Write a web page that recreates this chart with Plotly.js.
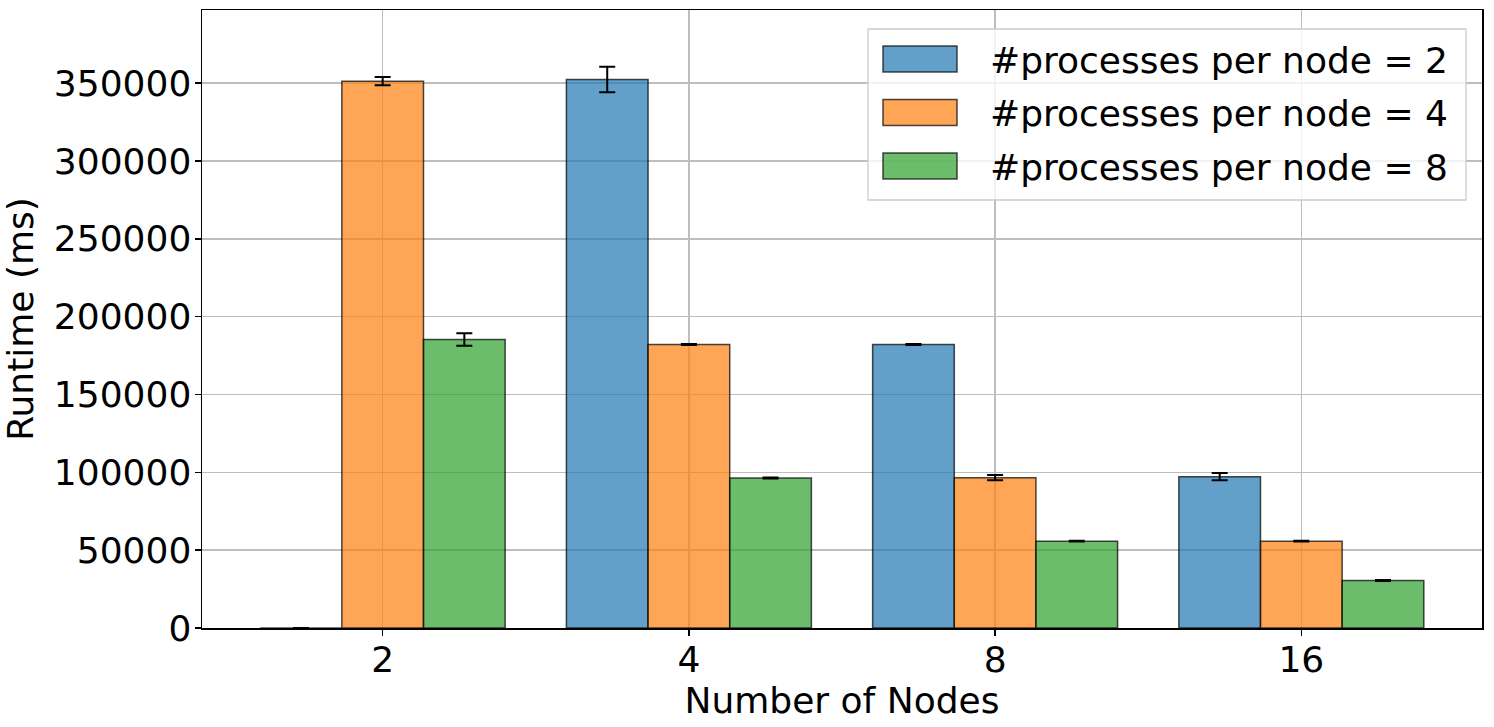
<!DOCTYPE html>
<html>
<head>
<meta charset="utf-8">
<script src="https://cdn.plot.ly/plotly-3.0.1.min.js"></script>
<style>html,body{margin:0;padding:0;background:#fff;}#chart{width:1494px;height:727px;}</style>
</head>
<body>
<div id="chart"></div>
<script>
// ---- data ----
const nodes = ["2", "4", "8", "16"];
const seriesNames = ["#processes per node = 2", "#processes per node = 4", "#processes per node = 8"];
const runtime_ppn2 = [0, 352300, 182100, 97200];
const runtime_ppn4 = [351300, 182100, 96600, 55800];
const runtime_ppn8 = [185300, 96400, 55800, 30500];
const err_ppn2 = [0, 8200, 300, 2300];
const err_ppn4 = [2700, 300, 1700, 300];
const err_ppn8 = [4000, 300, 300, 300];
const yTickVals = [0, 50000, 100000, 150000, 200000, 250000, 300000, 350000];

// ---- styling ----
const fills = ["rgba(31,119,180,0.7)", "rgba(255,127,14,0.7)", "rgba(44,160,44,0.7)"];
const FONT = "DejaVu Sans, Liberation Sans, sans-serif";
const W = 1494, H = 727;
const M = {l: 202, r: 12, t: 10, b: 99};
const PW = W - M.l - M.r, PH = H - M.t - M.b;
const px = x => (x - M.l) / PW;
const py = y => (H - M.b - y) / PH;

const values = [runtime_ppn2, runtime_ppn4, runtime_ppn8];
const errors = [err_ppn2, err_ppn4, err_ppn8];

const traces = values.map((v, i) => ({
  type: "bar",
  name: seriesNames[i],
  x: nodes,
  y: v,
  marker: {color: fills[i], line: {color: "rgba(0,0,0,0.7)", width: 1.5}},
  error_y: {type: "data", array: errors[i], visible: true, color: "black", thickness: 2, width: 8},
  showlegend: false
}));

// custom legend (matplotlib style)
const shapes = [{
  type: "rect", xref: "paper", yref: "paper",
  x0: px(868), x1: px(1466), y0: py(200), y1: py(29),
  fillcolor: "rgba(255,255,255,0.8)", line: {color: "rgba(204,204,204,1)", width: 1.3}, layer: "above"
}];
const annotations = [];
const rowCenters = [59, 112.5, 166];
seriesNames.forEach((n, i) => {
  shapes.push({
    type: "rect", xref: "paper", yref: "paper",
    x0: px(883), x1: px(957), y0: py(rowCenters[i] + 13), y1: py(rowCenters[i] - 13),
    fillcolor: fills[i], line: {color: "rgba(0,0,0,0.7)", width: 1.5}, layer: "above"
  });
  annotations.push({
    xref: "paper", yref: "paper", x: px(988), y: py(rowCenters[i] + 1),
    xanchor: "left", yanchor: "middle", showarrow: false,
    text: n, font: {family: FONT, size: 36, color: "black"}
  });
});

const layout = {
  width: W, height: H,
  margin: M,
  paper_bgcolor: "white", plot_bgcolor: "white",
  font: {family: FONT, size: 36, color: "black"},
  barmode: "group", bargap: 0.2, bargroupgap: 0,
  showlegend: false,
  xaxis: {
    type: "category", categoryorder: "array", categoryarray: nodes,
    range: [-0.59, 3.59],
    showgrid: true, gridcolor: "rgb(190,190,190)", gridwidth: 1.5,
    showline: true, linecolor: "black", linewidth: 1.5, mirror: true,
    ticks: "outside", ticklen: 6, tickwidth: 1.5, tickcolor: "black",
    ticklabelstandoff: -7,
    tickfont: {family: FONT, size: 36, color: "black"},
    title: {text: "Number of Nodes", font: {family: FONT, size: 36, color: "black"}, standoff: 0},
    automargin: false, zeroline: false
  },
  yaxis: {
    range: [0, 397000],
    tickvals: yTickVals, ticktext: yTickVals.map(String),
    showgrid: true, gridcolor: "rgb(190,190,190)", gridwidth: 1.5,
    showline: true, linecolor: "black", linewidth: 1.5, mirror: true,
    ticks: "outside", ticklen: 6, tickwidth: 1.5, tickcolor: "black",
    ticklabelstandoff: -4,
    tickfont: {family: FONT, size: 36, color: "black"},
    title: {text: "Runtime (ms)", font: {family: FONT, size: 36, color: "black"}, standoff: 18},
    automargin: false, zeroline: false
  },
  shapes: shapes,
  annotations: annotations
};

Plotly.newPlot("chart", traces, layout, {displayModeBar: false, staticPlot: true});
</script>
</body>
</html>
